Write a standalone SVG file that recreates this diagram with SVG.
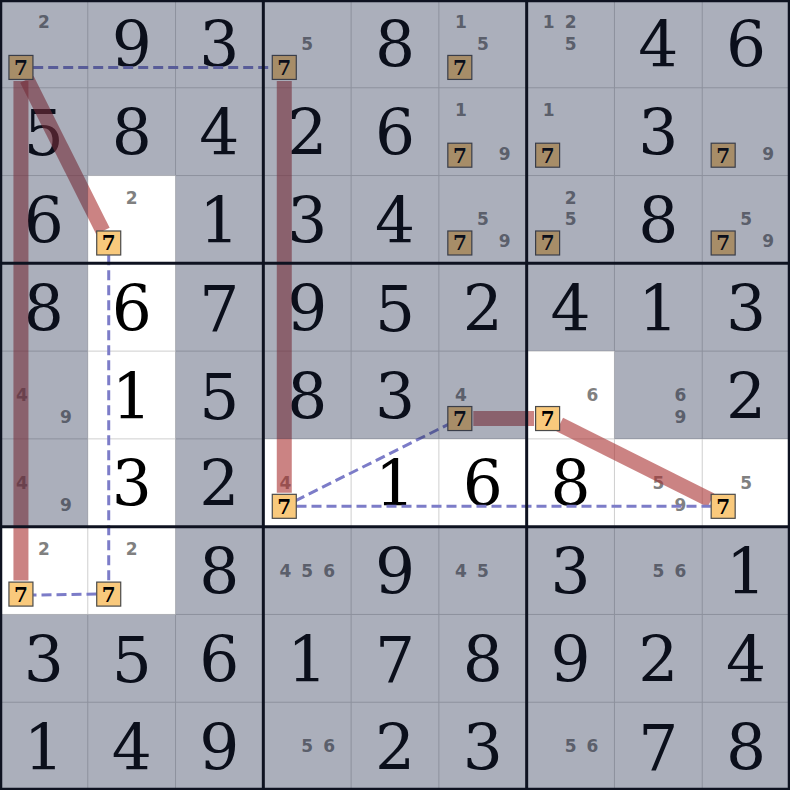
<svg xmlns="http://www.w3.org/2000/svg" xmlns:xlink="http://www.w3.org/1999/xlink" width="790" height="790" viewBox="0 0 790 790">
<style>
.g{font-family:"DejaVu Serif","Liberation Serif",serif;font-size:63px;fill:#000;text-anchor:middle}
.c{font-family:"DejaVu Sans","Liberation Sans",sans-serif;font-weight:bold;font-size:17px;fill:#808080;text-anchor:middle}
.thin{stroke:#cfcfcf;stroke-width:1}
.thick{stroke:#0e1220;stroke-width:3}
.strong{stroke:#a83030;stroke-opacity:0.6;stroke-width:15;fill:none}
.weak{stroke:#7c7cc8;stroke-width:3;stroke-dasharray:10 5;fill:none}
.t7{font-family:"DejaVu Serif","Liberation Serif",serif;font-weight:bold;font-size:20px;fill:#000;text-anchor:middle}
</style>
<defs>
<g id="box7"><rect x="-12" y="-12" width="24" height="24" fill="#f9c97c" stroke="#4a4a4a" stroke-width="1.2"/><text class="t7" x="0" y="7.4">7</text></g>
</defs>
<rect x="0" y="0" width="790" height="790" fill="#ffffff"/>
<g id="thin-grid">
<line class="thin" x1="87.78" y1="0" x2="87.78" y2="790"/><line class="thin" x1="175.56" y1="0" x2="175.56" y2="790"/>
<line class="thin" x1="351.11" y1="0" x2="351.11" y2="790"/><line class="thin" x1="438.89" y1="0" x2="438.89" y2="790"/>
<line class="thin" x1="614.44" y1="0" x2="614.44" y2="790"/><line class="thin" x1="702.22" y1="0" x2="702.22" y2="790"/>
<line class="thin" x1="0" y1="87.78" x2="790" y2="87.78"/><line class="thin" x1="0" y1="175.56" x2="790" y2="175.56"/>
<line class="thin" x1="0" y1="351.11" x2="790" y2="351.11"/><line class="thin" x1="0" y1="438.89" x2="790" y2="438.89"/>
<line class="thin" x1="0" y1="614.44" x2="790" y2="614.44"/><line class="thin" x1="0" y1="702.22" x2="790" y2="702.22"/>
</g>
<g id="cells">
<g id="r0c0"><text class="c" x="43.9" y="27.9">2</text></g>
<g id="r0c1"><text class="g" x="131.7" y="67.4">9</text></g>
<g id="r0c2"><text class="g" x="219.4" y="67.4">3</text></g>
<g id="r0c3"><text class="c" x="307.2" y="49.9">5</text></g>
<g id="r0c4"><text class="g" x="395" y="67.4">8</text></g>
<g id="r0c5"><text class="c" x="460.8" y="27.9">1</text><text class="c" x="482.8" y="49.9">5</text></g>
<g id="r0c6"><text class="c" x="548.6" y="27.9">1</text><text class="c" x="570.6" y="27.9">2</text><text class="c" x="570.6" y="49.9">5</text></g>
<g id="r0c7"><text class="g" x="658.3" y="67.4">4</text></g>
<g id="r0c8"><text class="g" x="746.1" y="67.4">6</text></g>

<g id="r1c0"><text class="g" x="43.9" y="155.2">5</text></g>
<g id="r1c1"><text class="g" x="131.7" y="155.2">8</text></g>
<g id="r1c2"><text class="g" x="219.4" y="155.2">4</text></g>
<g id="r1c3"><text class="g" x="307.2" y="155.2">2</text></g>
<g id="r1c4"><text class="g" x="395" y="155.2">6</text></g>
<g id="r1c5"><text class="c" x="460.8" y="115.7">1</text><text class="c" x="504.7" y="159.6">9</text></g>
<g id="r1c6"><text class="c" x="548.6" y="115.7">1</text></g>
<g id="r1c7"><text class="g" x="658.3" y="155.2">3</text></g>
<g id="r1c8"><text class="c" x="768.1" y="159.6">9</text></g>

<g id="r2c0"><text class="g" x="43.9" y="243">6</text></g>
<g id="r2c1"><text class="c" x="131.7" y="203.5">2</text></g>
<g id="r2c2"><text class="g" x="219.4" y="243">1</text></g>
<g id="r2c3"><text class="g" x="307.2" y="243">3</text></g>
<g id="r2c4"><text class="g" x="395" y="243">4</text></g>
<g id="r2c5"><text class="c" x="482.8" y="225.4">5</text><text class="c" x="504.7" y="247.4">9</text></g>
<g id="r2c6"><text class="c" x="570.6" y="203.5">2</text><text class="c" x="570.6" y="225.4">5</text></g>
<g id="r2c7"><text class="g" x="658.3" y="243">8</text></g>
<g id="r2c8"><text class="c" x="746.1" y="225.4">5</text><text class="c" x="768.1" y="247.4">9</text></g>

<g id="r3c0"><text class="g" x="43.9" y="330.7">8</text></g>
<g id="r3c1"><text class="g" x="131.7" y="330.7">6</text></g>
<g id="r3c2"><text class="g" x="219.4" y="330.7">7</text></g>
<g id="r3c3"><text class="g" x="307.2" y="330.7">9</text></g>
<g id="r3c4"><text class="g" x="395" y="330.7">5</text></g>
<g id="r3c5"><text class="g" x="482.8" y="330.7">2</text></g>
<g id="r3c6"><text class="g" x="570.6" y="330.7">4</text></g>
<g id="r3c7"><text class="g" x="658.3" y="330.7">1</text></g>
<g id="r3c8"><text class="g" x="746.1" y="330.7">3</text></g>

<g id="r4c0"><text class="c" x="21.9" y="401">4</text><text class="c" x="65.8" y="422.9">9</text></g>
<g id="r4c1"><text class="g" x="131.7" y="418.5">1</text></g>
<g id="r4c2"><text class="g" x="219.4" y="418.5">5</text></g>
<g id="r4c3"><text class="g" x="307.2" y="418.5">8</text></g>
<g id="r4c4"><text class="g" x="395" y="418.5">3</text></g>
<g id="r4c5"><text class="c" x="460.8" y="401">4</text></g>
<g id="r4c6"><text class="c" x="592.5" y="401">6</text></g>
<g id="r4c7"><text class="c" x="680.3" y="401">6</text><text class="c" x="680.3" y="422.9">9</text></g>
<g id="r4c8"><text class="g" x="746.1" y="418.5">2</text></g>

<g id="r5c0"><text class="c" x="21.9" y="488.8">4</text><text class="c" x="65.8" y="510.7">9</text></g>
<g id="r5c1"><text class="g" x="131.7" y="506.3">3</text></g>
<g id="r5c2"><text class="g" x="219.4" y="506.3">2</text></g>
<g id="r5c3"><text class="c" x="285.3" y="488.8">4</text></g>
<g id="r5c4"><text class="g" x="395" y="506.3">1</text></g>
<g id="r5c5"><text class="g" x="482.8" y="506.3">6</text></g>
<g id="r5c6"><text class="g" x="570.6" y="506.3">8</text></g>
<g id="r5c7"><text class="c" x="658.3" y="488.8">5</text><text class="c" x="680.3" y="510.7">9</text></g>
<g id="r5c8"><text class="c" x="746.1" y="488.8">5</text></g>

<g id="r6c0"><text class="c" x="43.9" y="554.6">2</text></g>
<g id="r6c1"><text class="c" x="131.7" y="554.6">2</text></g>
<g id="r6c2"><text class="g" x="219.4" y="594.1">8</text></g>
<g id="r6c3"><text class="c" x="285.3" y="576.6">4</text><text class="c" x="307.2" y="576.6">5</text><text class="c" x="329.2" y="576.6">6</text></g>
<g id="r6c4"><text class="g" x="395" y="594.1">9</text></g>
<g id="r6c5"><text class="c" x="460.8" y="576.6">4</text><text class="c" x="482.8" y="576.6">5</text></g>
<g id="r6c6"><text class="g" x="570.6" y="594.1">3</text></g>
<g id="r6c7"><text class="c" x="658.3" y="576.6">5</text><text class="c" x="680.3" y="576.6">6</text></g>
<g id="r6c8"><text class="g" x="746.1" y="594.1">1</text></g>

<g id="r7c0"><text class="g" x="43.9" y="681.8">3</text></g>
<g id="r7c1"><text class="g" x="131.7" y="681.8">5</text></g>
<g id="r7c2"><text class="g" x="219.4" y="681.8">6</text></g>
<g id="r7c3"><text class="g" x="307.2" y="681.8">1</text></g>
<g id="r7c4"><text class="g" x="395" y="681.8">7</text></g>
<g id="r7c5"><text class="g" x="482.8" y="681.8">8</text></g>
<g id="r7c6"><text class="g" x="570.6" y="681.8">9</text></g>
<g id="r7c7"><text class="g" x="658.3" y="681.8">2</text></g>
<g id="r7c8"><text class="g" x="746.1" y="681.8">4</text></g>

<g id="r8c0"><text class="g" x="43.9" y="769.6">1</text></g>
<g id="r8c1"><text class="g" x="131.7" y="769.6">4</text></g>
<g id="r8c2"><text class="g" x="219.4" y="769.6">9</text></g>
<g id="r8c3"><text class="c" x="307.2" y="752.1">5</text><text class="c" x="329.2" y="752.1">6</text></g>
<g id="r8c4"><text class="g" x="395" y="769.6">2</text></g>
<g id="r8c5"><text class="g" x="482.8" y="769.6">3</text></g>
<g id="r8c6"><text class="c" x="570.6" y="752.1">5</text><text class="c" x="592.5" y="752.1">6</text></g>
<g id="r8c7"><text class="g" x="658.3" y="769.6">7</text></g>
<g id="r8c8"><text class="g" x="746.1" y="769.6">8</text></g>
</g>
<g id="connectors" transform="translate(-1,1.6)">
<line class="strong" x1="21.94" y1="79.3" x2="21.94" y2="579"/>
<line class="strong" x1="27.9" y1="77.8" x2="103.9" y2="229.4"/>
<line class="strong" x1="285.28" y1="79.3" x2="285.28" y2="491.2"/>
<line class="strong" x1="474.3" y1="416.94" x2="535.1" y2="416.94"/>
<line class="strong" x1="560.7" y1="422.9" x2="712" y2="498.6"/>
<line class="weak" x1="34.2" y1="65.83" x2="273" y2="65.83"/>
<line class="weak" x1="109.72" y1="253.7" x2="109.72" y2="580.2"/>
<line class="weak" x1="97.5" y1="592.5" x2="34.2" y2="593.5"/>
<line class="weak" x1="296.3" y1="499.2" x2="449.8" y2="422.5"/>
<line class="weak" x1="297.5" y1="504.72" x2="711.9" y2="504.72"/>
</g>
<g id="nodes" transform="translate(-1,1.6)">
<g id="n-r0c0"><use xlink:href="#box7" x="21.94" y="65.83"/></g>
<g id="n-r0c3"><use xlink:href="#box7" x="285.28" y="65.83"/></g>
<g id="n-r0c5"><use xlink:href="#box7" x="460.83" y="65.83"/></g>
<g id="n-r1c5"><use xlink:href="#box7" x="460.83" y="153.61"/></g>
<g id="n-r1c6"><use xlink:href="#box7" x="548.61" y="153.61"/></g>
<g id="n-r1c8"><use xlink:href="#box7" x="724.17" y="153.61"/></g>
<g id="n-r2c1"><use xlink:href="#box7" x="109.72" y="241.39"/></g>
<g id="n-r2c5"><use xlink:href="#box7" x="460.83" y="241.39"/></g>
<g id="n-r2c6"><use xlink:href="#box7" x="548.61" y="241.39"/></g>
<g id="n-r2c8"><use xlink:href="#box7" x="724.17" y="241.39"/></g>
<g id="n-r4c5"><use xlink:href="#box7" x="460.83" y="416.94"/></g>
<g id="n-r4c6"><use xlink:href="#box7" x="548.61" y="416.94"/></g>
<g id="n-r5c3"><use xlink:href="#box7" x="285.28" y="504.72"/></g>
<g id="n-r5c8"><use xlink:href="#box7" x="724.17" y="504.72"/></g>
<g id="n-r6c0"><use xlink:href="#box7" x="21.94" y="592.5"/></g>
<g id="n-r6c1"><use xlink:href="#box7" x="109.72" y="592.5"/></g>
</g>
<path id="shade" fill="#1e2848" fill-opacity="0.373" fill-rule="evenodd" d="M0 0H790V790H0Z M87.78 175.56H175.56V614.44H0V526.67H87.78Z M263.33 438.89H526.67V351.11H614.44V438.89H790V526.67H263.33Z"/>
<g id="thick-grid">
<line class="thick" x1="263.33" y1="0" x2="263.33" y2="790"/>
<line class="thick" x1="526.67" y1="0" x2="526.67" y2="790"/>
<line class="thick" x1="0" y1="263.33" x2="790" y2="263.33"/>
<line class="thick" x1="0" y1="526.67" x2="790" y2="526.67"/>
<rect x="1" y="1" width="788" height="788" fill="none" stroke="#0e1220" stroke-width="2.5"/>
</g>
</svg>
